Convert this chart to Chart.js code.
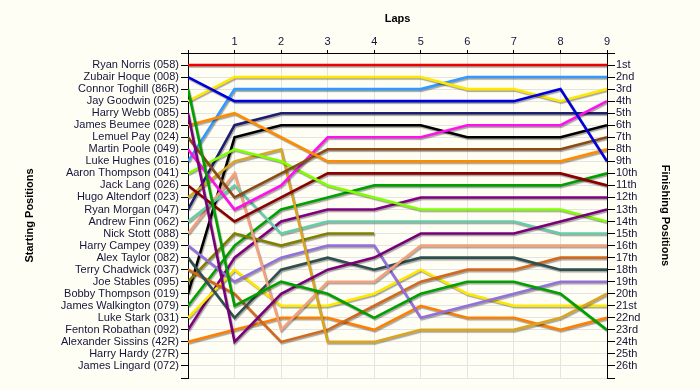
<!DOCTYPE html>
<html>
<head>
<meta charset="utf-8">
<script src="https://cdn.jsdelivr.net/npm/chart.js@4.4.1/dist/chart.umd.min.js"></script>
<style>
  html, body { margin: 0; padding: 0; background: #FFFEF4; }
  canvas { display: block; }
</style>
</head>
<body>
<canvas id="c" width="700" height="390"></canvas>
<script>
// ---- data ----
const laps = [0, 1, 2, 3, 4, 5, 6, 7, 8, 9];
const lapTickLabels = ['', '1', '2', '3', '4', '5', '6', '7', '8', '9'];
const startingLabels = [
  'Ryan Norris (058)', 'Zubair Hoque (008)', 'Connor Toghill (86R)', 'Jay Goodwin (025)',
  'Harry Webb (085)', 'James Beumee (028)', 'Lemuel Pay (024)', 'Martin Poole (049)',
  'Luke Hughes (016)', 'Aaron Thompson (041)', 'Jack Lang (026)', 'Hugo Altendorf (023)',
  'Ryan Morgan (047)', 'Andrew Finn (062)', 'Nick Stott (088)', 'Harry Campey (039)',
  'Alex Taylor (082)', 'Terry Chadwick (037)', 'Joe Stables (095)', 'Bobby Thompson (019)',
  'James Walkington (079)', 'Luke Stark (031)', 'Fenton Robathan (092)', 'Alexander Sissins (42R)',
  'Harry Hardy (27R)', 'James Lingard (072)'
];
const finishingLabels = [
  '1st', '2nd', '3rd', '4th', '5th', '6th', '7th', '8th', '9th', '10th', '11th', '12th', '13th',
  '14th', '15th', '16th', '17th', '18th', '19th', '20th', '21st', '22nd', '23rd', '24th', '25th', '26th'
];
// position of each driver at laps 0..9
const ryanNorris       = [1, 1, 1, 1, 1, 1, 1, 1, 1, 1];
const zubairHoque      = [2, 4, 4, 4, 4, 4, 4, 4, 3, 9];
const connorToghill    = [3, 21, 19, 20, 22, 20, 19, 19, 20, 23];
const jayGoodwin       = [4, 2, 2, 2, 2, 2, 3, 3, 4, 3];
const harryWebb        = [5, 24, 20, 18, 17, 15, 15, 15, 14, 13];
const jamesBeumee      = [6, 5, 7, 9, 9, 9, 9, 9, 9, 8];
const lemuelPay        = [7, 12, 10, 8, 8, 8, 8, 8, 8, 7];
const martinPoole      = [8, 13, 11, 7, 7, 7, 6, 6, 6, 4];
const lukeHughes       = [9, 3, 3, 3, 3, 3, 2, 2, 2, 2];
const aaronThompson    = [10, 8, 9, 11, 12, 13, 13, 13, 13, 14];
const jackLang         = [11, 14, 12, 10, 10, 10, 10, 10, 10, 11];
const hugoAltendorf    = [12, 9, 8, 24, 24, 23, 23, 23, 22, 20];
const ryanMorgan       = [13, 6, 5, 5, 5, 5, 5, 5, 5, 5];
const andrewFinn       = [14, 11, 15, 14, 14, 14, 14, 14, 15, 15];
const nickStott        = [15, 10, 23, 19, 19, 16, 16, 16, 16, 16];
const harryCampey      = [16, 19, 17, 16, 16, 22, 21, 20, 19, 19];
const alexTaylor       = [17, 22, 18, 17, 18, 17, 17, 17, 18, 18];
const terryChadwick    = [18, 20, 24, 23, 21, 19, 18, 18, 17, 17];
const joeStables       = [19, 15, 16, 15, 15];
const bobbyThompson    = [20, 7, 6, 6, 6, 6, 7, 7, 7, 6];
const jamesWalkington  = [21, 16, 13, 12, 11, 11, 11, 11, 11, 10];
const lukeStark        = [22, 18, 21, 21, 20, 18, 20, 21, 21, 21];
const fentonRobathan   = [23, 17, 14, 13, 13, 12, 12, 12, 12, 12];
const alexanderSissins = [24, 23, 22, 22, 23, 21, 22, 22, 23, 22];
const harryHardy       = [];
const jamesLingard     = [];

const series = [ryanNorris, zubairHoque, connorToghill, jayGoodwin, harryWebb, jamesBeumee,
  lemuelPay, martinPoole, lukeHughes, aaronThompson, jackLang, hugoAltendorf, ryanMorgan,
  andrewFinn, nickStott, harryCampey, alexTaylor, terryChadwick, joeStables, bobbyThompson,
  jamesWalkington, lukeStark, fentonRobathan, alexanderSissins, harryHardy, jamesLingard];

// ---- styles ----
const colors = ['#EE0000', '#0000DD', '#00A000', '#FFE800', '#7A007A', '#FF8C00',
  '#8B4A13', '#FF11EE', '#3399FF', '#80FF00', '#8B0000', '#DAA520', '#1E1E6E',
  '#66CDAA', '#F4A07A', '#9370DB', '#2F4F4F', '#D2691E', '#808000', '#000000',
  '#00A000', '#FFE800', '#800080', '#FF7F00', '#999999', '#999999'];

const datasets = series.map((arr, i) => ({
  label: startingLabels[i],
  data: arr.map((p, j) => ({ x: laps[j], y: p })),
  borderColor: colors[i],
  backgroundColor: colors[i],
  borderWidth: 2.6,
  pointRadius: 0,
  tension: 0,
  fill: false
}));

const shadowPlugin = {
  id: 'shadow',
  beforeDatasetDraw(chart) {
    const ctx = chart.ctx;
    ctx.save();
    ctx.shadowColor = 'rgba(0,0,0,0.35)';
    ctx.shadowOffsetX = 1;
    ctx.shadowOffsetY = 1.5;
    ctx.shadowBlur = 1;
  },
  afterDatasetDraw(chart) {
    chart.ctx.restore();
  }
};

const bgPlugin = {
  id: 'bg',
  beforeDraw(chart) {
    const ctx = chart.ctx;
    ctx.save();
    ctx.fillStyle = '#FFFEF4';
    ctx.fillRect(0, 0, chart.width, chart.height);
    ctx.restore();
  }
};

const tickFont = { family: 'Liberation Sans, Arial, sans-serif', size: 11 };
const titleFont = { family: 'Liberation Sans, Arial, sans-serif', size: 11, weight: 'bold' };
const textColor = '#14143C';

new Chart(document.getElementById('c'), {
  type: 'line',
  data: { datasets },
  plugins: [bgPlugin, shadowPlugin],
  options: {
    responsive: false,
    animation: false,
    devicePixelRatio: 1,
    layout: { padding: { left: 0, right: 0, top: 0, bottom: 12 } },
    plugins: { legend: { display: false }, tooltip: { enabled: false } },
    scales: {
      x: {
        type: 'linear',
        position: 'top',
        min: 0, max: 9,
        afterFit(s) { s.height = 53; },
        ticks: {
          stepSize: 1, autoSkip: false, padding: 1,
          font: tickFont, color: textColor,
          callback: (v) => lapTickLabels[v]
        },
        grid: { color: '#E4E4E4', tickColor: '#000', tickLength: 3, lineWidth: 1 },
        border: { display: true, color: '#000', width: 1 },
        title: { display: true, text: 'Laps', font: titleFont, color: '#000', padding: { top: 12, bottom: 0 } }
      },
      y: {
        type: 'linear',
        position: 'left',
        reverse: true,
        min: 0, max: 27,
        afterFit(s) { s.width = 188; },
        ticks: {
          stepSize: 1, autoSkip: false, padding: 2,
          font: tickFont, color: textColor,
          callback: (v) => startingLabels[v - 1] || ''
        },
        grid: { color: '#E4E4E4', tickColor: '#000', tickLength: 7, lineWidth: 1 },
        border: { display: true, color: '#000', width: 1 },
        title: { display: true, text: 'Starting Positions', font: titleFont, color: '#000', padding: { top: 23, bottom: 0 } }
      },
      y2: {
        type: 'linear',
        position: 'right',
        reverse: true,
        min: 0, max: 27,
        afterFit(s) { s.width = 93; },
        ticks: {
          stepSize: 1, autoSkip: false, padding: 1,
          font: tickFont, color: textColor,
          callback: (v) => finishingLabels[v - 1] || ''
        },
        grid: { drawOnChartArea: false, tickColor: '#000', tickLength: 8 },
        border: { display: true, color: '#000', width: 1 },
        title: { display: true, text: 'Finishing Positions', font: titleFont, color: '#000', padding: { top: 28, bottom: 0 } }
      }
    }
  }
});
</script>
</body>
</html>
